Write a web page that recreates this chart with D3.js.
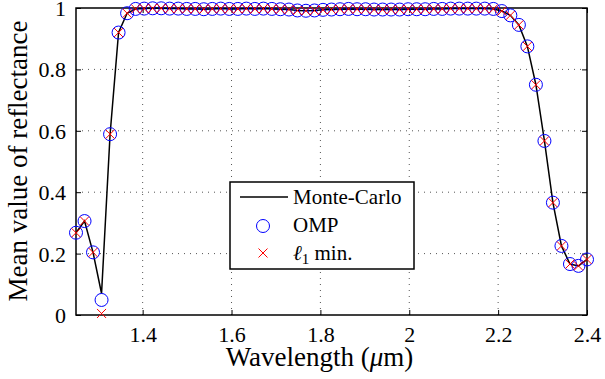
<!DOCTYPE html>
<html>
<head>
<meta charset="utf-8">
<script src="https://cdn.jsdelivr.net/npm/d3@7"></script>
<style>
  body { margin: 0; background: #fff; }
</style>
</head>
<body>
<div id="chart"></div>
<script>
// wavelengths: 61 samples from 1.25 to 2.4 um
var wavelengths = [1.25, 1.2692, 1.2883, 1.3075, 1.3267, 1.3458, 1.365, 1.3842, 1.4033, 1.4225,
  1.4417, 1.4608, 1.48, 1.4992, 1.5183, 1.5375, 1.5567, 1.5758, 1.595, 1.6142,
  1.6333, 1.6525, 1.6717, 1.6908, 1.71, 1.7292, 1.7483, 1.7675, 1.7867, 1.8058,
  1.825, 1.8442, 1.8633, 1.8825, 1.9017, 1.9208, 1.94, 1.9592, 1.9783, 1.9975,
  2.0167, 2.0358, 2.055, 2.0742, 2.0933, 2.1125, 2.1317, 2.1508, 2.17, 2.1892,
  2.2083, 2.2275, 2.2467, 2.2658, 2.285, 2.3042, 2.3233, 2.3425, 2.3617, 2.3808, 2.4];

var monteCarlo = [0.268, 0.306, 0.204, 0.07, 0.589, 0.92, 0.983, 0.997, 0.998, 0.999,
  0.999, 0.998, 0.998, 0.997, 0.997, 0.996, 0.997, 0.998, 0.997, 0.997,
  0.998, 0.997, 0.998, 0.997, 0.996, 0.995, 0.992, 0.991, 0.992, 0.994,
  0.995, 0.996, 0.997, 0.996, 0.996, 0.995, 0.995, 0.995, 0.995, 0.996,
  0.996, 0.996, 0.997, 0.997, 0.998, 0.998, 0.998, 0.998, 0.998, 0.997,
  0.99, 0.976, 0.945, 0.875, 0.75, 0.567, 0.366, 0.225, 0.166, 0.160, 0.181];

var ompValues = [0.268, 0.306, 0.204, 0.049, 0.589, 0.92, 0.983, 0.997, 0.998, 0.999,
  0.999, 0.998, 0.998, 0.997, 0.997, 0.996, 0.997, 0.998, 0.997, 0.997,
  0.998, 0.997, 0.998, 0.997, 0.996, 0.995, 0.992, 0.991, 0.992, 0.994,
  0.995, 0.996, 0.997, 0.996, 0.996, 0.995, 0.995, 0.995, 0.995, 0.996,
  0.996, 0.996, 0.997, 0.997, 0.998, 0.998, 0.998, 0.998, 0.998, 0.997,
  0.99, 0.976, 0.945, 0.875, 0.75, 0.567, 0.366, 0.225, 0.166, 0.160, 0.181];

var l1Values = [0.268, 0.306, 0.204, 0.005, 0.589, 0.92, 0.983, 0.997, 0.998, 0.999,
  0.999, 0.998, 0.998, 0.997, 0.997, 0.996, 0.997, 0.998, 0.997, 0.997,
  0.998, 0.997, 0.998, 0.997, 0.996, 0.995, 0.992, 0.991, 0.992, 0.994,
  0.995, 0.996, 0.997, 0.996, 0.996, 0.995, 0.995, 0.995, 0.995, 0.996,
  0.996, 0.996, 0.997, 0.997, 0.998, 0.998, 0.998, 0.998, 0.998, 0.997,
  0.99, 0.976, 0.945, 0.875, 0.75, 0.567, 0.366, 0.225, 0.166, 0.160, 0.181];

var xTicks = [1.4, 1.6, 1.8, 2, 2.2, 2.4];
var yTicks = [0, 0.2, 0.4, 0.6, 0.8, 1];
var legendLabels = ["Monte-Carlo", "OMP"];

var serif = "'Liberation Serif', 'Times New Roman', Times, serif";

var svgWidth = 605;
var svgHeight = 379;

var chartMargin = { top: 8, right: 18, bottom: 64, left: 76 };

var chartWidth = svgWidth - chartMargin.left - chartMargin.right;
var chartHeight = svgHeight - chartMargin.top - chartMargin.bottom;

var svg = d3.select("#chart")
  .append("svg")
  .attr("width", svgWidth)
  .attr("height", svgHeight)
  .style("font-family", serif);

var chartGroup = svg.append("g")
  .attr("transform", `translate(${chartMargin.left}, ${chartMargin.top})`);

var xScale = d3.scaleLinear().domain([1.25, 2.4]).range([0, chartWidth]);
var yScale = d3.scaleLinear().domain([0, 1]).range([chartHeight, 0]);

// dotted grid
chartGroup.append("g")
  .selectAll("line")
  .data(xTicks.slice(0, -1))
  .enter()
  .append("line")
  .attr("x1", d => xScale(d)).attr("x2", d => xScale(d))
  .attr("y1", 0).attr("y2", chartHeight)
  .attr("stroke", "#555")
  .attr("stroke-width", 1)
  .attr("stroke-dasharray", "1,5");

chartGroup.append("g")
  .selectAll("line")
  .data(yTicks.slice(1, -1))
  .enter()
  .append("line")
  .attr("x1", 0).attr("x2", chartWidth)
  .attr("y1", d => yScale(d)).attr("y2", d => yScale(d))
  .attr("stroke", "#555")
  .attr("stroke-width", 1)
  .attr("stroke-dasharray", "1,5");

// axes with inward ticks (box style)
var xAxis = d3.axisBottom(xScale).tickValues(xTicks).tickSize(-5).tickPadding(11).tickFormat(d3.format("~g"));
var yAxis = d3.axisLeft(yScale).tickValues(yTicks).tickSize(-5).tickPadding(10).tickFormat(d3.format("~g"));

var xAxisG = chartGroup.append("g")
  .attr("transform", `translate(0, ${chartHeight})`)
  .call(xAxis);
var yAxisG = chartGroup.append("g").call(yAxis);
chartGroup.append("g").call(d3.axisTop(xScale).tickValues(xTicks).tickSize(-5).tickFormat(""));
chartGroup.append("g")
  .attr("transform", `translate(${chartWidth}, 0)`)
  .call(d3.axisRight(yScale).tickValues(yTicks).tickSize(-5).tickFormat(""));

chartGroup.selectAll(".domain").remove();
chartGroup.selectAll(".tick line").attr("stroke", "#000");
xAxisG.selectAll("text").style("font-size", "22px").style("font-family", serif).attr("dy", "0.71em");
yAxisG.selectAll("text").style("font-size", "22px").style("font-family", serif).attr("dy", "0.34em");

// frame
chartGroup.append("rect")
  .attr("width", chartWidth)
  .attr("height", chartHeight)
  .attr("fill", "none")
  .attr("stroke", "#000")
  .attr("stroke-width", 1.5);

// Monte-Carlo line
var line = d3.line()
  .x((d, i) => xScale(wavelengths[i]))
  .y(d => yScale(d));

chartGroup.append("path")
  .datum(monteCarlo)
  .attr("d", line)
  .attr("fill", "none")
  .attr("stroke", "#000")
  .attr("stroke-width", 1.5);

// OMP circles
chartGroup.append("g")
  .selectAll("circle")
  .data(ompValues)
  .enter()
  .append("circle")
  .attr("cx", (d, i) => xScale(wavelengths[i]))
  .attr("cy", d => yScale(d))
  .attr("r", 6.5)
  .attr("fill", "none")
  .attr("stroke", "#0000ff")
  .attr("stroke-width", 1);

// l1 crosses
var cross = "M-4.5,-4.5L4.5,4.5M-4.5,4.5L4.5,-4.5";
chartGroup.append("g")
  .selectAll("path")
  .data(l1Values)
  .enter()
  .append("path")
  .attr("transform", (d, i) => `translate(${xScale(wavelengths[i])}, ${yScale(d)})`)
  .attr("d", cross)
  .attr("stroke", "#ff0000")
  .attr("stroke-width", 1);

// axis labels
svg.append("text")
  .attr("x", chartMargin.left + chartWidth / 2 - 12)
  .attr("y", 366)
  .attr("text-anchor", "middle")
  .style("font-size", "27px")
  .style("font-family", serif)
  .html('Wavelength (<tspan font-style="italic">μ</tspan>m)');

svg.append("text")
  .attr("transform", "rotate(-90)")
  .attr("x", -161)
  .attr("y", 27)
  .attr("text-anchor", "middle")
  .style("font-size", "27px")
  .style("font-family", serif)
  .text("Mean value of reflectance");

// legend
var legend = svg.append("g").attr("transform", "translate(230, 182)");
legend.append("rect")
  .attr("width", 184)
  .attr("height", 87)
  .attr("fill", "#fff")
  .attr("stroke", "#000")
  .attr("stroke-width", 1.5);

legend.append("line")
  .attr("x1", 10).attr("x2", 58)
  .attr("y1", 15).attr("y2", 15)
  .attr("stroke", "#000").attr("stroke-width", 1.5);
legend.append("circle")
  .attr("cx", 33).attr("cy", 44).attr("r", 6.5)
  .attr("fill", "none").attr("stroke", "#0000ff");
legend.append("path")
  .attr("transform", "translate(33, 71)")
  .attr("d", cross)
  .attr("stroke", "#ff0000");

legend.selectAll("text.lab")
  .data(legendLabels)
  .enter()
  .append("text")
  .attr("class", "lab")
  .attr("x", 63)
  .attr("y", (d, i) => 22 + i * 28)
  .style("font-size", "21px")
  .style("font-family", serif)
  .text(d => d);

var ell = legend.append("text")
  .attr("x", 63)
  .attr("y", 78)
  .style("font-size", "21px")
  .style("font-family", serif);
ell.append("tspan").attr("font-style", "italic").text("ℓ");
ell.append("tspan").attr("dy", 4).style("font-size", "15px").text("1");
ell.append("tspan").attr("dy", -4).text(" min.");
</script>
</body>
</html>
